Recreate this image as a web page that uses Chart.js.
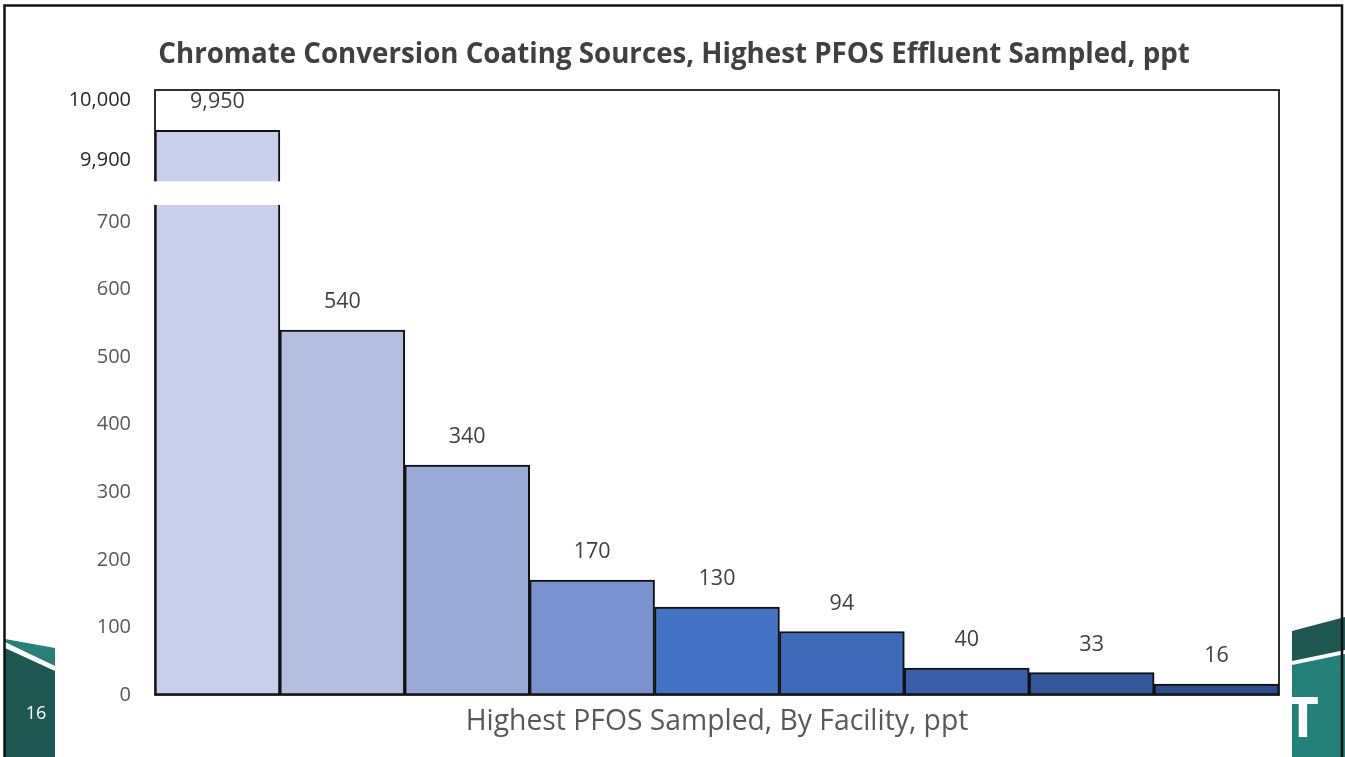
<!DOCTYPE html>
<html>
<head>
<meta charset="utf-8">
<title>Chromate Conversion Coating Sources, Highest PFOS Effluent Sampled, ppt</title>
<script src="https://cdn.jsdelivr.net/npm/chart.js@4.4.1/dist/chart.umd.min.js"></script>
<style>
  html, body { margin: 0; padding: 0; background: #ffffff; overflow: hidden; }
  #wrap { position: relative; width: 1345px; height: 757px; }
  canvas { display: block; }
</style>
</head>
<body>
<div id="wrap"><canvas id="c" width="1345" height="757"></canvas></div>
<script>
// ---- data ----
const facilities = ['Facility 1', 'Facility 2', 'Facility 3', 'Facility 4', 'Facility 5',
                    'Facility 6', 'Facility 7', 'Facility 8', 'Facility 9'];
const pfosPpt = [9950, 540, 340, 170, 130, 94, 40, 33, 16];
const yTickValues = [0, 100, 200, 300, 400, 500, 600, 700, 9900, 10000];

// ---- text ----
const chartTitle = 'Chromate Conversion Coating Sources, Highest PFOS Effluent Sampled, ppt';
const xAxisTitle = 'Highest PFOS Sampled, By Facility, ppt';
const slideNumber = '16';

// ---- styles ----
const barColors = ['#C9CFEA', '#B3BEE0', '#9AABD7', '#7A92CF', '#4472C4',
                   '#3E69B8', '#3A5FA8', '#34569A', '#2F4D8C'];
const FONT = '"Open Sans", "Liberation Sans", sans-serif';

// Broken value axis: [valueFrom, valueTo, fractionFrom, fractionTo] of the axis height.
// The middle piece is the hidden break between the low range and the top range.
const AXIS_SEGMENTS = [
  [0, 725, 0, 0.81],
  [725, 9865, 0.81, 0.849],
  [9865, 10017, 0.849, 1]
];
const BREAK_FROM = 725, BREAK_TO = 9865;

function valueToFrac(v) {
  for (const [a, b, fa, fb] of AXIS_SEGMENTS) {
    if (v <= b) return fa + (v - a) / (b - a) * (fb - fa);
  }
  const [a, b, fa, fb] = AXIS_SEGMENTS[AXIS_SEGMENTS.length - 1];
  return fa + (v - a) / (b - a) * (fb - fa);
}
function fracToValue(f) {
  for (const [a, b, fa, fb] of AXIS_SEGMENTS) {
    if (f <= fb) return a + (f - fa) / (fb - fa) * (b - a);
  }
  const [a, b, fa, fb] = AXIS_SEGMENTS[AXIS_SEGMENTS.length - 1];
  return a + (f - fa) / (fb - fa) * (b - a);
}

class BrokenLinearScale extends Chart.LinearScale {
  buildTicks() { return yTickValues.map(v => ({ value: v })); }
  getPixelForValue(v) { return this.getPixelForDecimal(valueToFrac(v)); }
  getValueForPixel(p) { return fracToValue(this.getDecimalForPixel(p)); }
}
BrokenLinearScale.id = 'brokenLinear';
BrokenLinearScale.defaults = Chart.LinearScale.defaults;
Chart.register(BrokenLinearScale);

const fmt = v => Number(v).toLocaleString('en-US');

// white page behind everything
const pageBackground = {
  id: 'pageBackground',
  beforeDraw(chart) {
    const ctx = chart.ctx;
    ctx.save();
    ctx.fillStyle = '#ffffff';
    ctx.fillRect(0, 0, chart.width, chart.height);
    ctx.restore();
  }
};

// plot frame, the axis break across the tall bar, and value labels
const plotExtras = {
  id: 'plotExtras',
  afterDatasetsDraw(chart) {
    const ctx = chart.ctx;
    const a = chart.chartArea;
    const y = chart.scales.y;
    const bars = chart.getDatasetMeta(0).data;

    ctx.save();
    ctx.strokeStyle = '#1a1a1a';
    ctx.lineWidth = 1.8;
    ctx.strokeRect(a.left, a.top, a.right - a.left, a.bottom - a.top);

    // gap for the axis break
    const gTop = y.getPixelForValue(BREAK_TO);
    const gBot = y.getPixelForValue(BREAK_FROM);
    bars.forEach((bar, i) => {
      if (pfosPpt[i] > BREAK_FROM) {
        ctx.fillStyle = '#ffffff';
        ctx.fillRect(bar.x - bar.width / 2 - 4, gTop, bar.width + 8, gBot - gTop);
      }
    });

    ctx.fillStyle = '#404040';
    ctx.font = '21.5px ' + FONT;
    ctx.textAlign = 'center';
    ctx.textBaseline = 'middle';
    bars.forEach((bar, i) => {
      ctx.fillText(fmt(pfosPpt[i]), bar.x, bar.y - 28);
    });
    ctx.restore();
  }
};

// slide frame, corner bands, slide number and heading
const slideDecor = {
  id: 'slideDecor',
  afterDraw(chart) {
    const ctx = chart.ctx;
    ctx.save();

    // left corner band
    ctx.fillStyle = '#2A7F78';
    ctx.beginPath();
    ctx.moveTo(5, 639); ctx.lineTo(55, 648); ctx.lineTo(55, 666); ctx.lineTo(5, 642);
    ctx.closePath(); ctx.fill();
    ctx.fillStyle = '#1E5752';
    ctx.beginPath();
    ctx.moveTo(5, 648); ctx.lineTo(55, 671); ctx.lineTo(55, 757); ctx.lineTo(5, 757);
    ctx.closePath(); ctx.fill();

    ctx.fillStyle = '#ffffff';
    ctx.font = '18px ' + FONT;
    ctx.textAlign = 'center';
    ctx.textBaseline = 'middle';
    ctx.fillText(slideNumber, 36, 714);

    // right corner band
    ctx.fillStyle = '#1E5752';
    ctx.beginPath();
    ctx.moveTo(1292, 631); ctx.lineTo(1345, 617); ctx.lineTo(1345, 650); ctx.lineTo(1292, 661);
    ctx.closePath(); ctx.fill();
    ctx.fillStyle = '#25807A';
    ctx.beginPath();
    ctx.moveTo(1292, 665); ctx.lineTo(1345, 654); ctx.lineTo(1345, 757); ctx.lineTo(1292, 757);
    ctx.closePath(); ctx.fill();
    ctx.save();
    ctx.beginPath();
    ctx.rect(1292, 665, 53, 92);
    ctx.clip();
    ctx.fillStyle = '#ffffff';
    ctx.font = 'bold 55px ' + FONT;
    ctx.textAlign = 'center';
    ctx.textBaseline = 'alphabetic';
    ctx.fillText('T', 1303, 737);
    ctx.restore();

    // slide border
    ctx.strokeStyle = '#111111';
    ctx.lineWidth = 2.5;
    ctx.beginPath();
    ctx.moveTo(4.5, 760); ctx.lineTo(4.5, 5.5); ctx.lineTo(1342, 5.5); ctx.lineTo(1342, 760);
    ctx.stroke();

    // heading
    ctx.fillStyle = '#404040';
    ctx.font = 'bold 27.7px ' + FONT;
    ctx.textAlign = 'center';
    ctx.textBaseline = 'middle';
    ctx.fillText(chartTitle, 674, 55);

    ctx.restore();
  }
};

new Chart(document.getElementById('c'), {
  type: 'bar',
  data: {
    labels: facilities,
    datasets: [{
      data: pfosPpt,
      backgroundColor: barColors,
      borderColor: '#111111',
      borderWidth: 2,
      borderSkipped: false,
      categoryPercentage: 1,
      barPercentage: 1
    }]
  },
  options: {
    responsive: false,
    animation: false,
    devicePixelRatio: 1,
    layout: { padding: { left: 0, right: 66, top: 90, bottom: 0 } },
    plugins: {
      legend: { display: false },
      title: { display: false },
      tooltip: { enabled: false }
    },
    scales: {
      x: {
        type: 'category',
        grid: { display: false, drawTicks: false },
        border: { display: false },
        ticks: { display: false },
        title: {
          display: true,
          text: xAxisTitle,
          color: '#595959',
          font: { family: FONT, size: 28.3, lineHeight: 1.2 },
          padding: { top: 0, bottom: 18 }
        },
        afterFit(s) { s.height = 62; }
      },
      y: {
        type: 'brokenLinear',
        min: 0,
        max: 10017,
        grid: { display: false, drawTicks: false },
        border: { display: false },
        ticks: {
          padding: 24,
          autoSkip: false,
          color: ctx => (ctx.tick && ctx.tick.value >= 9900) ? '#262626' : '#595959',
          font: { family: FONT, size: 20 },
          callback: v => fmt(v)
        },
        afterFit(s) { s.width = 155; }
      }
    }
  },
  plugins: [pageBackground, plotExtras, slideDecor]
});
</script>
</body>
</html>
